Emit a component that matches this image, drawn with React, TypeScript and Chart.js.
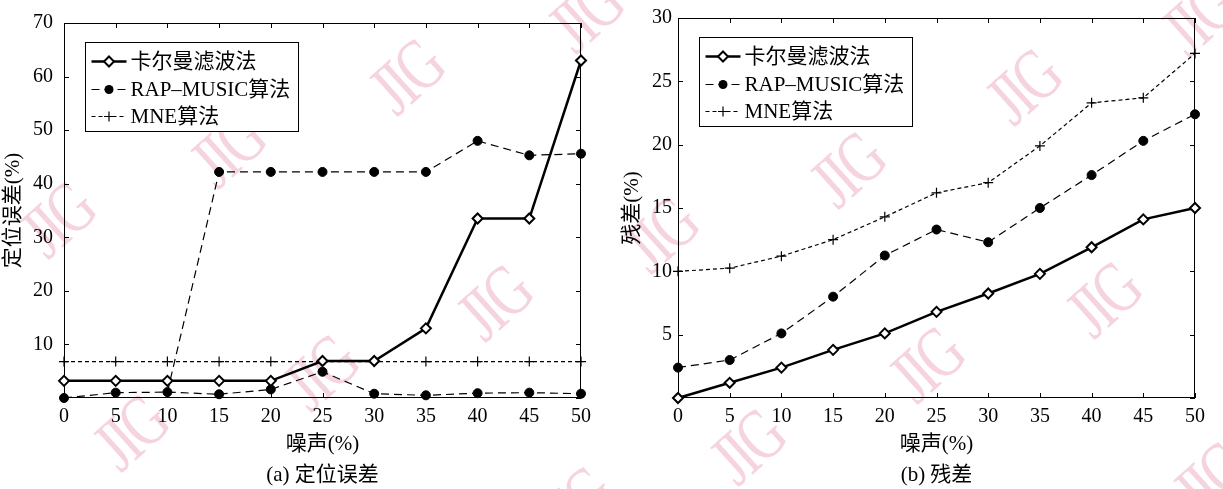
import React, { useEffect, useRef } from 'react';
import { Chart, registerables } from 'chart.js';

Chart.register(...registerables);

// ---------- data ----------
const noise = [0, 5, 10, 15, 20, 25, 30, 35, 40, 45, 50];

// (a) 定位误差
const locKalman = [3.2, 3.2, 3.2, 3.2, 3.2, 6.9, 6.9, 13, 33.5, 33.5, 63];
const locRapLow = [0, 1.0, 1.1, 0.7, 1.6, 4.9, 0.8, 0.5, 0.9, 1.0, 0.8];
const locRapHigh = [null, null, 1.1, 42.2, 42.2, 42.2, 42.2, 42.2, 48, 45.3, 45.6];
const locMne = [6.8, 6.8, 6.8, 6.8, 6.8, 6.8, 6.8, 6.8, 6.8, 6.8, 6.8];

// (b) 残差
const resKalman = [0, 1.2, 2.4, 3.8, 5.1, 6.8, 8.25, 9.8, 11.9, 14.1, 15];
const resRap = [2.4, 3.0, 5.1, 8.0, 11.25, 13.3, 12.3, 15.0, 17.6, 20.3, 22.4];
const resMne = [10.0, 10.25, 11.2, 12.5, 14.3, 16.2, 17.0, 19.9, 23.3, 23.7, 27.2];

const seriesNames = ['卡尔曼滤波法', 'RAP–MUSIC算法', 'MNE算法'];
const xTitle = '噪声(%)';
const captionA = '(a) 定位误差';
const captionB = '(b) 残差';
const yTitleA = '定位误差(%)';
const yTitleB = '残差(%)';

// watermark "JIG" stamps (page decoration, not data)
const watermarkText = 'JIG';
const watermarkSpots = [
  [57, 220], [227, 150], [406, 77], [585, 15],
  [130, 433], [320, 373], [494, 303], [660, 235], [847, 170], [1023, 87], [1198, 18],
  [575, 505], [747, 447], [926, 365], [1103, 300], [1210, 480],
];

const FONT = "'Liberation Serif', 'Times New Roman', 'Noto Sans CJK SC', serif";

const pts = (ys: (number | null)[]) => noise.map((x, i) => ({ x, y: ys[i] }));

const kalmanStyle = {
  borderColor: '#000',
  borderWidth: 2.5,
  pointStyle: 'rectRot',
  pointRadius: 5,
  pointHoverRadius: 5,
  pointBackgroundColor: '#fff',
  pointBorderColor: '#000',
  pointBorderWidth: 2,
  kind: 'kalman',
};
const rapStyle = {
  borderColor: '#000',
  borderWidth: 1.2,
  borderDash: [8, 5],
  pointStyle: 'circle',
  pointRadius: 4.5,
  pointHoverRadius: 4.5,
  pointBackgroundColor: '#000',
  pointBorderColor: '#000',
  pointBorderWidth: 1,
  kind: 'rap',
};
const mneStyle = {
  borderColor: '#000',
  borderWidth: 1.2,
  borderDash: [4, 3],
  pointStyle: 'cross',
  pointRadius: 5,
  pointHoverRadius: 5,
  pointBorderColor: '#000',
  pointBorderWidth: 1.2,
  kind: 'mne',
};

// ---------- plugins ----------
const boxPlugin = {
  id: 'matlabBox',
  beforeDatasetsDraw(chart: any) {
    const { ctx, chartArea: a, scales } = chart;
    ctx.save();
    ctx.strokeStyle = '#000';
    ctx.lineWidth = 1;
    ctx.setLineDash([]);
    ctx.strokeRect(a.left + 0.5, a.top + 0.5, a.right - a.left - 1, a.bottom - a.top - 1);
    const tl = 5;
    ctx.beginPath();
    scales.x.ticks.forEach((t: any) => {
      const px = Math.round(scales.x.getPixelForValue(t.value)) + 0.5;
      ctx.moveTo(px, a.bottom);
      ctx.lineTo(px, a.bottom - tl);
      ctx.moveTo(px, a.top);
      ctx.lineTo(px, a.top + tl);
    });
    scales.y.ticks.forEach((t: any) => {
      const py = Math.round(scales.y.getPixelForValue(t.value)) + 0.5;
      ctx.moveTo(a.left, py);
      ctx.lineTo(a.left + tl, py);
      ctx.moveTo(a.right, py);
      ctx.lineTo(a.right - tl, py);
    });
    ctx.stroke();
    ctx.restore();
  },
};

function drawMarker(ctx: CanvasRenderingContext2D, kind: string, x: number, y: number) {
  ctx.save();
  ctx.setLineDash([]);
  ctx.strokeStyle = '#000';
  if (kind === 'kalman') {
    ctx.lineWidth = 2;
    ctx.fillStyle = '#fff';
    ctx.beginPath();
    ctx.moveTo(x, y - 5);
    ctx.lineTo(x + 5, y);
    ctx.lineTo(x, y + 5);
    ctx.lineTo(x - 5, y);
    ctx.closePath();
    ctx.fill();
    ctx.stroke();
  } else if (kind === 'rap') {
    ctx.fillStyle = '#000';
    ctx.beginPath();
    ctx.arc(x, y, 4.5, 0, Math.PI * 2);
    ctx.fill();
  } else {
    ctx.lineWidth = 1.2;
    ctx.beginPath();
    ctx.moveTo(x - 5, y);
    ctx.lineTo(x + 5, y);
    ctx.moveTo(x, y - 5);
    ctx.lineTo(x, y + 5);
    ctx.stroke();
  }
  ctx.restore();
}

const legendPlugin = {
  id: 'boxLegend',
  afterDraw(chart: any) {
    const { ctx, chartArea: a } = chart;
    const items = chart.data.datasets.filter((d: any) => d.label);
    const bx = Math.round(a.left + 21) + 0.5;
    const by = Math.round(a.top + 19) + 0.5;
    const bw = 213;
    const bh = 89;
    ctx.save();
    ctx.fillStyle = '#fff';
    ctx.fillRect(bx, by, bw, bh);
    ctx.strokeStyle = '#000';
    ctx.lineWidth = 1;
    ctx.setLineDash([]);
    ctx.strokeRect(bx, by, bw, bh);
    const rows = [19, 47, 74];
    items.forEach((d: any, i: number) => {
      const y = by + rows[i];
      ctx.save();
      ctx.strokeStyle = '#000';
      ctx.lineWidth = d.borderWidth;
      ctx.setLineDash(d.borderDash || []);
      ctx.beginPath();
      ctx.moveTo(bx + 6, y);
      ctx.lineTo(bx + 41, y);
      ctx.stroke();
      ctx.restore();
      drawMarker(ctx, d.kind, bx + 23.5, y);
      ctx.fillStyle = '#000';
      ctx.font = `21px ${FONT}`;
      ctx.textBaseline = 'middle';
      ctx.textAlign = 'left';
      ctx.fillText(d.label, bx + 45, y + 1);
    });
    ctx.restore();
  },
};

// ---------- chart config ----------
function makeConfig(
  datasets: any[],
  yMax: number,
  yStep: number,
  yTitle: string,
  caption: string,
  yWidth: number,
  padRight: number,
  yTickPad: number,
  yTitlePad: number
): any {
  return {
    type: 'line',
    data: { datasets },
    options: {
      animation: false,
      responsive: false,
      devicePixelRatio: 1,
      events: [],
      layout: { padding: { left: 0, right: padRight, top: 14, bottom: 0 } },
      plugins: { legend: { display: false }, tooltip: { enabled: false } },
      elements: { line: { tension: 0 } },
      scales: {
        x: {
          type: 'linear',
          min: 0,
          max: 50,
          grid: { display: false, drawTicks: false },
          border: { display: false },
          ticks: {
            stepSize: 5,
            autoSkip: false,
            maxRotation: 0,
            padding: 7,
            color: '#000',
            font: { family: FONT, size: 20, lineHeight: 1.2 },
          },
          title: {
            display: true,
            text: [xTitle, caption],
            color: '#000',
            font: { family: FONT, size: 21, lineHeight: 1.476 },
            padding: { top: 0, bottom: -1.5 },
          },
          afterFit: (s: any) => {
            s.height = 91;
          },
        },
        y: {
          type: 'linear',
          min: 0,
          max: yMax,
          grid: { display: false, drawTicks: false },
          border: { display: false },
          ticks: {
            stepSize: yStep,
            padding: yTickPad,
            color: '#000',
            font: { family: FONT, size: 20, lineHeight: 1.2 },
            callback: (v: number) => (v === 0 ? '' : String(v)),
          },
          title: {
            display: true,
            text: yTitle,
            color: '#000',
            font: { family: FONT, size: 21, lineHeight: 1.2 },
            padding: { top: yTitlePad, bottom: 0 },
          },
          afterFit: (s: any) => {
            s.width = yWidth;
          },
        },
      },
    },
    plugins: [boxPlugin, legendPlugin],
  };
}

function ChartCanvas({ config, width, height, left }: { config: () => any; width: number; height: number; left: number }) {
  const ref = useRef<HTMLCanvasElement | null>(null);
  useEffect(() => {
    if (!ref.current) return;
    const chart = new Chart(ref.current, config());
    return () => chart.destroy();
  }, []);
  return (
    <canvas
      ref={ref}
      width={width}
      height={height}
      style={{ position: 'absolute', left, top: 0, width, height, zIndex: 1 }}
    />
  );
}

const configA = () =>
  makeConfig(
    [
      { label: seriesNames[0], data: pts(locKalman), ...kalmanStyle, clip: false },
      { label: seriesNames[1], data: pts(locRapLow), ...rapStyle, clip: false },
      { label: seriesNames[2], data: pts(locMne), ...mneStyle, clip: false },
      {
        label: '',
        data: pts(locRapHigh),
        ...rapStyle,
        pointRadius: locRapHigh.map((v, i) => (i === 2 ? 0 : 4.5)),
        clip: false,
      },
    ],
    70,
    10,
    yTitleA,
    captionA,
    64,
    30,
    11,
    1
  );

const configB = () =>
  makeConfig(
    [
      { label: seriesNames[0], data: pts(resKalman), ...kalmanStyle, clip: false },
      { label: seriesNames[1], data: pts(resRap), ...rapStyle, clip: false },
      { label: seriesNames[2], data: pts(resMne), ...mneStyle, clip: false },
    ],
    30,
    5,
    yTitleB,
    captionB,
    67,
    28,
    6,
    8.4
  );

export default function App() {
  return (
    <div
      style={{
        position: 'fixed',
        left: 0,
        top: 0,
        width: 1223,
        height: 489,
        background: '#fff',
        overflow: 'hidden',
      }}
    >
      {watermarkSpots.map(([x, y], i) => (
        <span
          key={i}
          aria-hidden="true"
          style={{
            position: 'absolute',
            left: x,
            top: y,
            transform: 'translate(-50%, -50%) rotate(-42deg) scale(0.85, 1.15)',
            fontFamily: FONT,
            fontSize: 64,
            letterSpacing: -4,
            lineHeight: 1,
            color: '#f6d4de',
            whiteSpace: 'nowrap',
            zIndex: 0,
            userSelect: 'none',
          }}
        >
          {watermarkText}
        </span>
      ))}
      <ChartCanvas config={configA} width={611} height={489} left={0} />
      <ChartCanvas config={configB} width={612} height={489} left={611} />
    </div>
  );
}
